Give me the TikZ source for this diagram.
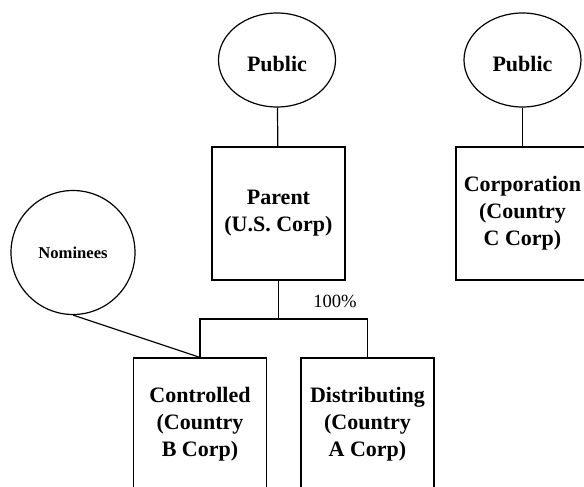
\documentclass[tikz,border=0pt]{standalone}
\usepackage{fontspec}
\setmainfont{Liberation Serif}
\usepackage{tikz}
\usetikzlibrary{shapes}
\tikzstyle{owner}=[ellipse,draw,line width=0.6pt,minimum width=58.5pt,minimum height=47pt,inner sep=0pt,font=\fontsize{11}{14}\selectfont\bfseries]
\tikzstyle{nominee}=[circle,draw,line width=0.6pt,minimum size=62pt,inner sep=0pt,font=\fontsize{8.3}{10}\selectfont\bfseries]
\tikzstyle{corp}=[rectangle,draw,line width=0.6pt,minimum width=66.5pt,minimum height=66.5pt,inner sep=0pt,align=center,font=\fontsize{11}{13.5}\selectfont\bfseries]
\tikzstyle{link}=[line width=0.6pt]
\newcommand{\pxunit}{0.5pt}
\newcommand{\lowered}[1]{\raisebox{-2pt}[\height][0pt]{#1}}

\begin{document}
\begin{tikzpicture}[x=\pxunit,y=-\pxunit]
    \clip (0,0) rectangle (584,487);
    \node[owner] (Pub1) at (277,60) {\lowered{Public}};
    \node[owner] (Pub2) at (522.5,60) {\lowered{Public}};
    \node[corp] (Parent) at (278.5,213.5) {Parent\\(U.S. Corp)};
    \node[corp] (Corp) at (522.5,213.5) {Corporation\\(Country\\C Corp)};
    \node[nominee] (Nom) at (73,252.5) {Nominees};
    \node[corp] (Ctrl) at (200,424.5) {Controlled\\(Country\\B Corp)};
    \node[corp] (Dist) at (367.5,424.5) {Distributing\\(Country\\A Corp)};
    \coordinate (Split) at (278.5,319);
	 \draw[link] (Pub1) -- (Parent);
	 \draw[link] (Pub2) -- (Corp);
	 \draw[link] (Parent.south) -- (Split);
	 \draw[link] (Split) -| (Ctrl.north);
	 \draw[link] (Split) -| (Dist.north);
	 \draw[link] (Nom.south) -- (Ctrl.north);
    \node[font=\fontsize{9.3}{11}\selectfont] (Pct) at (335,301) {100\%};
\end{tikzpicture}
\end{document}
